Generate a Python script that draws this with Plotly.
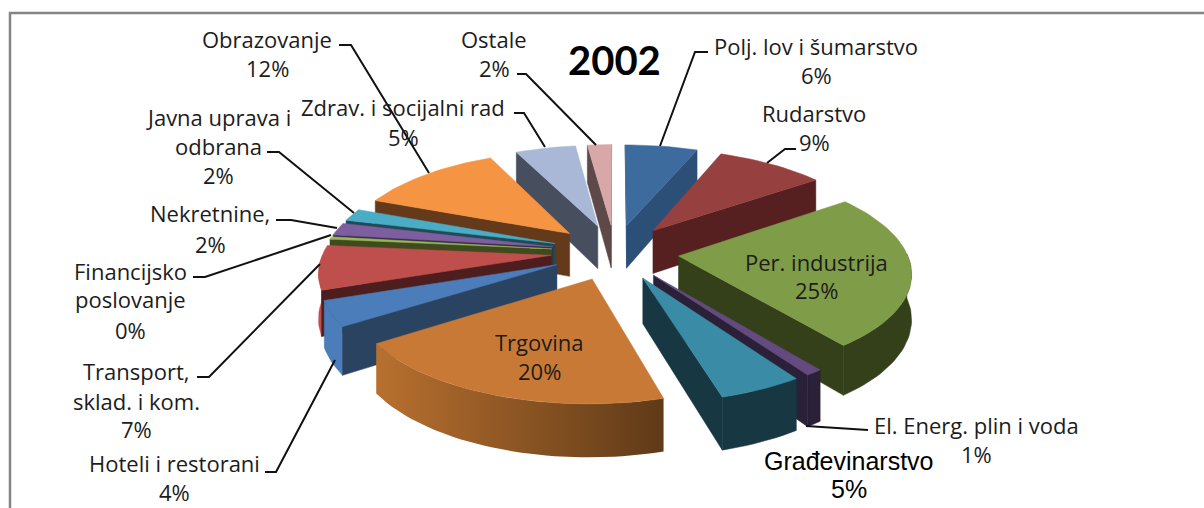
import math
import plotly.graph_objects as go

# ---- data ----
names = ["Polj. lov i šumarstvo", "Rudarstvo", "Per. industrija", "El. Energ. plin i voda",
         "Građevinarstvo", "Trgovina", "Hoteli i restorani", "Transport, sklad. i kom.",
         "Financijsko poslovanje", "Nekretnine,", "Javna uprava i odbrana",
         "Obrazovanje", "Zdrav. i socijalni rad", "Ostale"]
values = [6, 9, 24.6, 1, 5, 20, 4, 7, 0.4, 2, 2, 12, 5, 2]
title_text = "2002"

# ---- style ----
top_colors = ["#3E6B9E", "#964040", "#7F9C48", "#654A80", "#3A8CA6", "#C87936", "#4A7DB9",
              "#BE4F4D", "#98B955", "#7D5FA0", "#4BACC6", "#F59442", "#A8B8D6", "#D8A8A8"]
wall_colors = ["#2C4F78", "#55201F", "#33401A", "#2A2038", "#173742", "#5F3A18", "#2A4361",
               "#4E1D1D", "#3F4A1F", "#3A2C4C", "#1F4A56", "#643A1A", "#474F5E", "#5E4848"]
rim_colors = {6: "#4A7DB9", 7: "#BE4F4D"}
wall_gradient = {5: ["#B8702F", "#5F3A18"]}

# ---- projection of the tilted, exploded pie onto the page ----
CX, CY, RX, RY, K, EXPLODE, DEPTH = 615, 252, 228, 99, 0.14, 0.28, 44


def project(px, py, z=0.0):
    s = 1 / (1 + K * py)
    return CX + RX * px * s, CY - RY * py * s + z * s


total = sum(values)
slices = []
acc = 0.0
for i, v in enumerate(values):
    a0 = acc / total * 2 * math.pi
    acc += v
    a1 = acc / total * 2 * math.pi
    slices.append((i, a0, a1))

fig = go.Figure()


def poly(pts, color, gradient=None):
    xs = [p[0] for p in pts] + [pts[0][0]]
    ys = [p[1] for p in pts] + [pts[0][1]]
    kw = {}
    if gradient:
        kw["fillgradient"] = dict(type="horizontal",
                                  colorscale=[[0, gradient[0]], [1, gradient[1]]])
        line = dict(width=0)
    else:
        kw["fillcolor"] = color
        line = dict(width=0.5, color=color)
    fig.add_trace(go.Scatter(x=xs, y=ys, mode="lines", fill="toself", line=line,
                             hoverinfo="skip", showlegend=False, **kw))


for i, a0, a1 in sorted(slices, key=lambda t: -math.cos((t[1] + t[2]) / 2)):
    b = (a0 + a1) / 2
    ox, oy = EXPLODE * math.sin(b), EXPLODE * math.cos(b)
    n = max(3, int((a1 - a0) / 0.03))
    arc = [a0 + (a1 - a0) * j / n for j in range(n + 1)]
    plane = [(ox + math.sin(a), oy + math.cos(a)) for a in arc]
    tip = (ox, oy)
    top = [project(*p) for p in plane]
    bot = [project(p[0], p[1], DEPTH) for p in plane]
    tip_t, tip_b = project(*tip), project(tip[0], tip[1], DEPTH)

    # outer wall: the part of the rim that faces the viewer
    vis = [j for j in range(n + 1) if math.cos(arc[j]) < 0.03]
    if len(vis) > 1:
        pts = [top[j] for j in vis] + [bot[j] for j in reversed(vis)]
        poly(pts, rim_colors.get(i, wall_colors[i]), wall_gradient.get(i))

    # radial faces: visible when their outward side points down the page
    if top[0][0] < tip_t[0]:   # start face opening to the left
        poly([tip_t, top[0], bot[0], tip_b], wall_colors[i])
    if top[-1][0] > tip_t[0]:  # end face opening to the right
        poly([tip_t, top[-1], bot[-1], tip_b], wall_colors[i])

    poly([tip_t] + top, top_colors[i])

# ---- page furniture: frame, leaders, text ----
LEADERS = [
    [(708, 52), (695, 52), (660, 146)],
    [(796, 149), (785, 149), (767, 163)],
    [(517, 74), (526, 74), (596, 145)],
    [(514, 113), (524, 113), (545, 147)],
    [(339, 45), (351, 45), (429, 173)],
    [(267, 152), (279, 152), (354, 213)],
    [(276, 220), (291, 220), (337, 228)],
    [(193, 277), (205, 277), (331, 235)],
    [(197, 377), (209, 377), (320, 264)],
    [(265, 472), (276, 472), (335, 360)],
    [(868, 430), (806, 426)],
]
shapes = [dict(type="path", xref="x", yref="y", layer="above",
               path="M10,508 L10,13 L1204,13", line=dict(color="#858585", width=2.5))]
for pts in LEADERS:
    d = "M" + " L".join(f"{x},{y}" for x, y in pts)
    shapes.append(dict(type="path", xref="x", yref="y", layer="above", path=d,
                       line=dict(color="#111111", width=2)))

# (index, lines of the name, x of the block, y of each line incl. the percentage)
LABEL_POS = [
    (0, ["Polj. lov i šumarstvo"], 816, [46, 75]),
    (1, ["Rudarstvo"], 814, [113, 142]),
    (2, ["Per. industrija"], 816, [262, 290]),
    (3, ["El. Energ. plin i voda"], 976, [425, 454]),
    (5, ["Trgovina"], 539, [342, 371]),
    (6, ["Hoteli i restorani"], 174, [463, 492]),
    (7, ["Transport,", "sklad. i kom."], 136, [371, 401, 429]),
    (8, ["Financijsko", "poslovanje"], 130, [271, 299, 330]),
    (9, ["Nekretnine,"], 210, [213, 244]),
    (10, ["Javna uprava i", "odbrana"], 218, [117, 146, 175]),
    (11, ["Obrazovanje"], 267, [39, 68]),
    (12, ["Zdrav. i socijalni rad"], 403, [107, 137]),
    (13, ["Ostale"], 494, [39, 68]),
]
annotations = []


def text(x, y, s, size=22, family="Open Sans", color="#1c1c1c", bold=False):
    annotations.append(dict(x=x, y=y, xref="x", yref="y", text=f"<b>{s}</b>" if bold else s,
                            showarrow=False, xanchor="center", yanchor="middle",
                            font=dict(family=family, size=size, color=color)))


for idx, lines, x, ys in LABEL_POS:
    for line, y in zip(lines + [f"{round(values[idx])}%"], ys):
        text(x, y, line)
# Građevinarstvo is set in a different face in the reference
text(849, 461, names[4], size=25, family="Liberation Sans", color="#000000")
text(849, 489, f"{round(values[4])}%", size=25, family="Liberation Sans", color="#000000")
text(614, 60, title_text, size=40, family="Lato", color="#000000", bold=True)

fig.update_layout(
    width=1204, height=508, margin=dict(l=0, r=0, t=0, b=0),
    paper_bgcolor="white", plot_bgcolor="white", showlegend=False,
    xaxis=dict(range=[0, 1204], visible=False, fixedrange=True),
    yaxis=dict(range=[508, 0], visible=False, fixedrange=True),
    shapes=shapes, annotations=annotations,
)
fig.write_html("out.html", config={"displayModeBar": False, "responsive": False},
               post_script="document.body.style.margin='0';document.body.style.overflow='hidden';")
